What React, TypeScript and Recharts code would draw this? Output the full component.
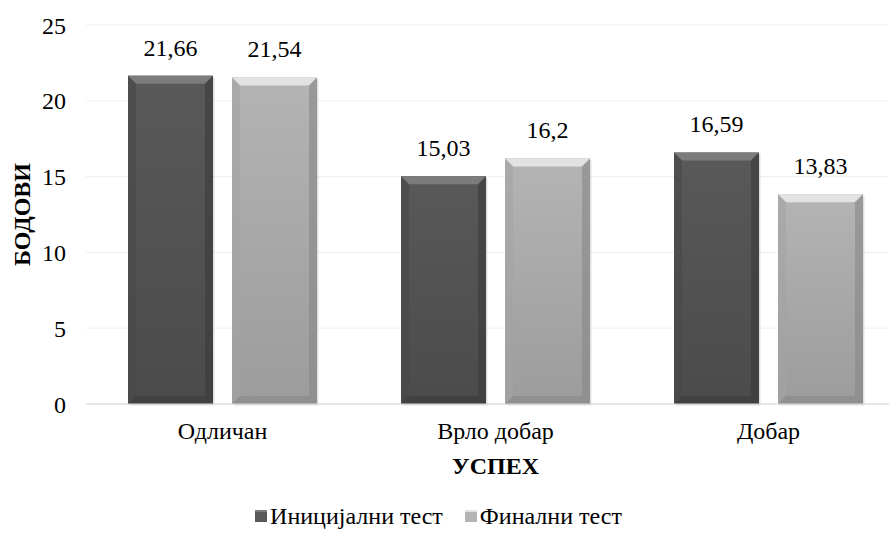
import React from 'react';
import { BarChart, Bar, XAxis, YAxis, CartesianGrid, Legend, LabelList, Label } from 'recharts';

document.body.style.margin = '0';

const categories = ['Одличан', 'Врло добар', 'Добар'];
const initialTest = [21.66, 15.03, 16.59];
const finalTest = [21.54, 16.2, 13.83];
const yTicks = [0, 5, 10, 15, 20, 25];

const seriesNames = ['Иницијални тест', 'Финални тест'];

const data = categories.map((name, i) => ({
  name,
  initial: initialTest[i],
  final: finalTest[i],
}));

const FONT = '"Liberation Serif", serif';
const FS = 24;

const palettes: Record<string, { top: string; faceA: string; faceB: string; left: string; right: string; bottom: string }> = {
  dark: { top: '#7c7c7c', faceA: '#595959', faceB: '#4b4b4b', left: '#474747', right: '#3b3b3b', bottom: '#3d3d3d' },
  light: { top: '#e2e2e2', faceA: '#b4b4b4', faceB: '#9c9c9c', left: '#a3a3a3', right: '#878787', bottom: '#8a8a8a' },
};

// bar with a bevelled edge, like the office "bevel" effect
function BevelBar(props: any) {
  const { x, y, width: w, height: h, kind } = props;
  if (!w || !h || h <= 0) return null;
  const p = palettes[kind];
  const b = Math.min(8, h / 3);
  return (
    <g>
      <rect x={x + 1.5} y={y + 1.5} width={w} height={h} fill="#000" opacity={0.12} />
      <rect x={x} y={y} width={w} height={h} fill={`url(#face-${kind})`} />
      <polygon points={`${x},${y} ${x + w},${y} ${x + w - b},${y + b} ${x + b},${y + b}`} fill={p.top} />
      <polygon points={`${x},${y} ${x + b},${y + b} ${x + b},${y + h - b} ${x},${y + h}`} fill={p.left} opacity={0.6} />
      <polygon points={`${x + w},${y} ${x + w - b},${y + b} ${x + w - b},${y + h - b} ${x + w},${y + h}`} fill={p.right} opacity={0.6} />
      <polygon points={`${x},${y + h} ${x + b},${y + h - b} ${x + w - b},${y + h - b} ${x + w},${y + h}`} fill={p.bottom} opacity={0.7} />
    </g>
  );
}

const fmt = (v: any) => String(v).replace('.', ',');

function LegendContent() {
  const kinds = ['dark', 'light'];
  return (
    <div style={{ display: 'flex', justifyContent: 'center', gap: 22, fontFamily: FONT, fontSize: FS, color: '#000', lineHeight: '28px' }}>
      {seriesNames.map((n, i) => (
        <div key={n} style={{ display: 'flex', alignItems: 'center' }}>
          <span
            style={{
              display: 'inline-block',
              width: 12,
              height: 12,
              marginRight: 3,
              background: palettes[kinds[i]].faceA,
              borderTop: `2px solid ${palettes[kinds[i]].top}`,
              boxSizing: 'border-box',
            }}
          />
          <span>{n}</span>
        </div>
      ))}
    </div>
  );
}

export default function App() {
  return (
    <div style={{ width: 889, height: 547, background: '#fff', overflow: 'hidden' }}>
      <BarChart
        width={905}
        height={547}
        data={data}
        margin={{ top: 25, right: 0, left: 0, bottom: 43 }}
        barSize={85}
        barGap={19}
      >
        <defs>
          {Object.keys(palettes).map((k) => (
            <linearGradient key={k} id={`face-${k}`} x1="0" y1="0" x2="0" y2="1">
              <stop offset="0%" stopColor={palettes[k].faceA} />
              <stop offset="100%" stopColor={palettes[k].faceB} />
            </linearGradient>
          ))}
        </defs>
        <CartesianGrid vertical={false} stroke="#efefef" />
        <XAxis
          dataKey="name"
          height={72}
          axisLine={{ stroke: '#d9d9d9' }}
          tickLine={false}
          tickSize={0}
          tickMargin={18}
          tick={{ fill: '#000', fontSize: FS, fontFamily: FONT }}
        >
          <Label
            value="УСПЕХ"
            position="insideBottom"
            offset={2}
            style={{ fill: '#000', fontSize: FS, fontWeight: 'bold', fontFamily: FONT }}
          />
        </XAxis>
        <YAxis
          width={86}
          domain={[0, 25]}
          ticks={yTicks}
          axisLine={false}
          tickLine={false}
          tickSize={0}
          tickMargin={20}
          tick={{ fill: '#000', fontSize: FS, fontFamily: FONT }}
        >
          <Label
            value="БОДОВИ"
            angle={-90}
            position="center"
            dx={-22}
            style={{ fill: '#000', fontSize: FS, fontWeight: 'bold', fontFamily: FONT, textAnchor: 'middle' }}
          />
        </YAxis>
        <Legend
          verticalAlign="bottom"
          content={<LegendContent />}
          wrapperStyle={{ bottom: 17, width: 889, left: -6 }}
        />
        <Bar dataKey="initial" name={seriesNames[0]} fill="#555" isAnimationActive={false} shape={(p: any) => <BevelBar {...p} kind="dark" />}>
          <LabelList dataKey="initial" position="top" offset={20} formatter={fmt} style={{ fill: '#000', fontSize: FS, fontFamily: FONT }} />
        </Bar>
        <Bar dataKey="final" name={seriesNames[1]} fill="#aaa" isAnimationActive={false} shape={(p: any) => <BevelBar {...p} kind="light" />}>
          <LabelList dataKey="final" position="top" offset={20} formatter={fmt} style={{ fill: '#000', fontSize: FS, fontFamily: FONT }} />
        </Bar>
      </BarChart>
    </div>
  );
}
